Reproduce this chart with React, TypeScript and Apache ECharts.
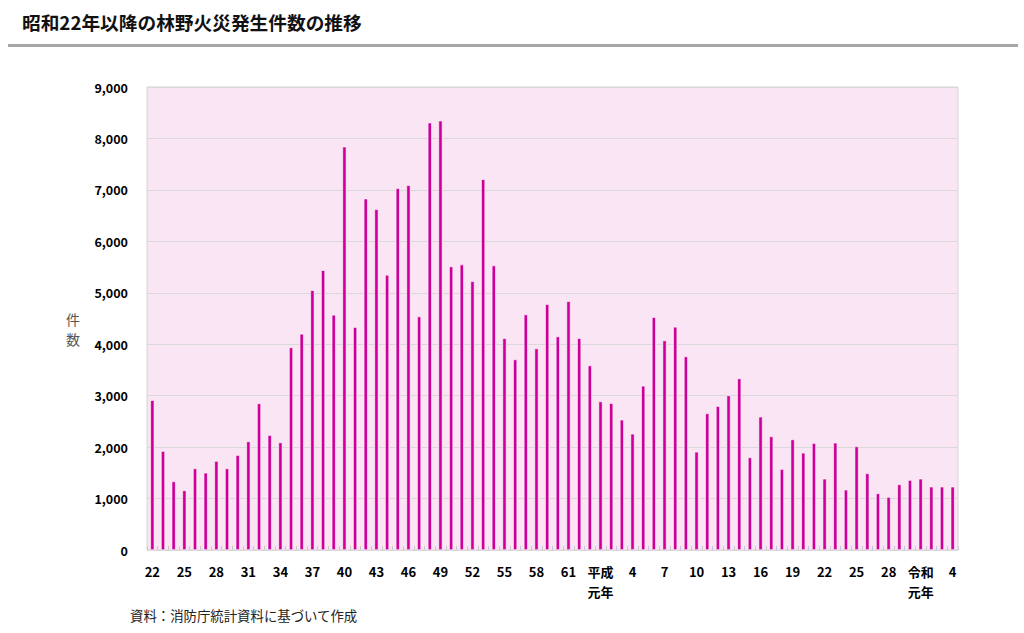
import React, { useEffect, useRef } from "react";
import * as echarts from "echarts";

const years: string[] = [
  "昭和22", "昭和23", "昭和24", "昭和25", "昭和26", "昭和27", "昭和28", "昭和29", "昭和30", "昭和31",
  "昭和32", "昭和33", "昭和34", "昭和35", "昭和36", "昭和37", "昭和38", "昭和39", "昭和40", "昭和41",
  "昭和42", "昭和43", "昭和44", "昭和45", "昭和46", "昭和47", "昭和48", "昭和49", "昭和50", "昭和51",
  "昭和52", "昭和53", "昭和54", "昭和55", "昭和56", "昭和57", "昭和58", "昭和59", "昭和60", "昭和61",
  "昭和62", "昭和63", "平成1", "平成2", "平成3", "平成4", "平成5", "平成6", "平成7", "平成8",
  "平成9", "平成10", "平成11", "平成12", "平成13", "平成14", "平成15", "平成16", "平成17", "平成18",
  "平成19", "平成20", "平成21", "平成22", "平成23", "平成24", "平成25", "平成26", "平成27", "平成28",
  "平成29", "平成30", "令和1", "令和2", "令和3", "令和4",
];

const fireCounts: number[] = [
  2912, 1923, 1334, 1159, 1586, 1502, 1729, 1586, 1845, 2111,
  2849, 2234, 2091, 3937, 4202, 5050, 5439, 4571, 7841, 4332,
  6831, 6624, 5348, 7032, 7090, 4539, 8308, 8347, 5511, 5549,
  5225, 7207, 5530, 4118, 3704, 4578, 3917, 4778, 4151, 4837,
  4118, 3587, 2888, 2855, 2532, 2260, 3192, 4526, 4073, 4338,
  3762, 1910, 2655, 2797, 3004, 3335, 1800, 2590, 2208, 1573,
  2150, 1890, 2078, 1385, 2085, 1172, 2014, 1490, 1101, 1030,
  1276, 1360, 1385, 1230, 1230, 1230,
];

const displayLabels: Record<string, string> = {
  "平成1": "平成\n元年",
  "令和1": "令和\n元年",
};

const title = "昭和22年以降の林野火災発生件数の推移";
const yAxisName = "件\n数";
const sourceNote = "資料：消防庁統計資料に基づいて作成";

const FONT = "'Noto Sans CJK JP', 'Noto Sans', sans-serif";

export default function App() {
  const ref = useRef<HTMLDivElement>(null);
  useEffect(() => {
    if (!ref.current) return;
    const chart = echarts.init(ref.current, undefined, { renderer: "svg" });
    chart.setOption({
      animation: false,
      backgroundColor: "#ffffff",
      textStyle: { fontFamily: FONT },
      title: {
        text: title,
        left: 17,
        top: 7,
        textStyle: { fontSize: 18.7, fontWeight: "bold", color: "#111", fontFamily: FONT },
      },
      graphic: [
        { type: "rect", shape: { x: 8, y: 44, width: 1010, height: 3 }, style: { fill: "#a6a6a6" } },
        {
          type: "text", x: 66, y: 309,
          style: { text: yAxisName, fontSize: 14, lineHeight: 20, fill: "#555", fontFamily: FONT },
        },
        {
          type: "text", x: 130, y: 608,
          style: { text: sourceNote, fontSize: 13.4, fill: "#222", fontFamily: FONT },
        },
      ],
      grid: {
        left: 147, top: 87, width: 811, height: 463,
        show: true, backgroundColor: "#fae5f4", borderColor: "#d4d4d4", borderWidth: 1,
      },
      xAxis: {
        type: "category",
        data: years,
        axisLine: { show: false },
        axisTick: { show: true, inside: true, length: 4, interval: 0, lineStyle: { color: "#c8c8c8" } },
        axisLabel: {
          interval: 2,
          margin: 11,
          fontSize: 13,
          fontWeight: "bold",
          color: "#000",
          lineHeight: 20,
          fontFamily: FONT,
          formatter: (v: string) => displayLabels[v] ?? v.replace(/^(昭和|平成|令和)/, ""),
        },
      },
      yAxis: {
        type: "value",
        min: 0, max: 9000, interval: 1000,
        axisLine: { show: false },
        axisTick: { show: false },
        splitLine: { lineStyle: { color: "#d9d9d9", width: 1 } },
        axisLabel: {
          margin: 19,
          fontSize: 12.5,
          fontWeight: "bold",
          color: "#000",
          fontFamily: FONT,
          formatter: (v: number) => v.toLocaleString("en-US"),
        },
      },
      series: [
        {
          type: "bar",
          data: fireCounts,
          barWidth: 4,
          itemStyle: { color: "#cc0099", borderColor: "#ffffff", borderWidth: 0.6 },
        },
      ],
    });
    return () => chart.dispose();
  }, []);
  return (
    <div
      ref={ref}
      style={{ position: "fixed", left: 0, top: 0, width: 1024, height: 633 }}
    />
  );
}
